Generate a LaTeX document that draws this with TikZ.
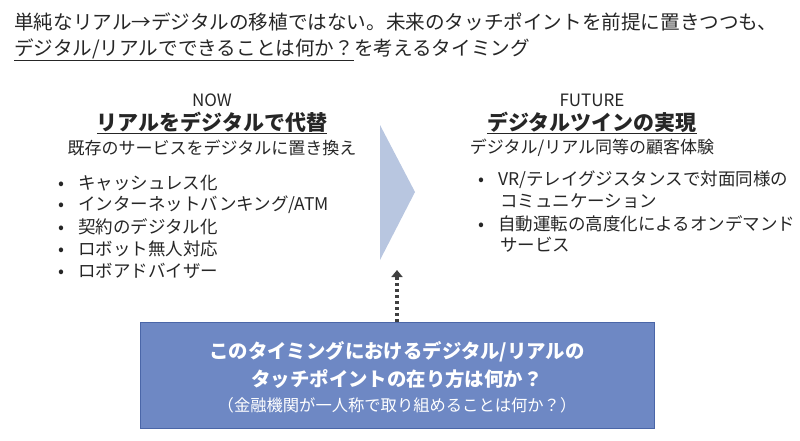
\documentclass[tikz,border=0pt]{standalone}
\usepackage{fontspec}
\usetikzlibrary{arrows.meta}
\setmainfont{Noto Sans CJK JP}
\definecolor{boxblue}{HTML}{6E88C4}
\definecolor{boxedge}{HTML}{4A66A8}
\definecolor{chev}{HTML}{B8C6E0}
\definecolor{txt}{HTML}{262626}
\begin{document}
\begin{tikzpicture}[x=1pt,y=-1pt,
  every node/.style={text=txt,inner sep=0pt},
  title/.style={font=\fontsize{19.6}{22}\selectfont,anchor=west},
  head/.style={font=\fontsize{21}{24}\selectfont\bfseries},
  sub/.style={font=\fontsize{17}{20}\selectfont},
  item/.style={font=\fontsize{17.5}{20}\selectfont,anchor=west,align=left}]
\useasboundingbox (0,0) rectangle (800,440);
\node[title] (t1) at (14,22) {単純なリアル→デジタルの移植ではない。未来のタッチポイントを前提に置きつつも、};
\node[title] (t2) at (14,50) {\underline{デジタル/リアルでできることは何か？}を考えるタイミング};
% NOW
\node[sub] (now) at (212,100) {NOW};
\node[head] (nowh) at (212,123) {\underline{リアルをデジタルで代替}};
\node[sub] (nows) at (212,148) {既存のサービスをデジタルに置き換え};
\node[item] (nb1) at (58,183) {•\hspace{14pt}キャッシュレス化};
\node[item] (nb2) at (58,205) {•\hspace{14pt}インターネットバンキング/ATM};
\node[item] (nb3) at (58,227) {•\hspace{14pt}契約のデジタル化};
\node[item] (nb4) at (58,249) {•\hspace{14pt}ロボット無人対応};
\node[item] (nb5) at (58,271) {•\hspace{14pt}ロボアドバイザー};
% chevron
\fill[chev] (380,125) -- (415,192) -- (380,260) -- cycle;
% FUTURE
\node[sub] (fut) at (592,100) {FUTURE};
\node[head] (futh) at (592,123) {\underline{デジタルツインの実現}};
\node[sub] (futs) at (592,148) {デジタル/リアル同等の顧客体験};
\node[item] (fb1) at (478,180) {•\hspace{14pt}VR/テレイグジスタンスで対面同様の};
\node[item] (fb1b) at (500,201) {コミュニケーション};
\node[item] (fb2) at (478,224) {•\hspace{14pt}自動運転の高度化によるオンデマンド};
\node[item] (fb2b) at (500,245) {サービス};
% box
\node[draw=boxedge,fill=boxblue,line width=1pt,minimum width=514pt,minimum height=106pt] (box) at (397,375) {};
\node[font=\fontsize{19.4}{22}\selectfont\bfseries,text=white] (b1) at (397,352) {このタイミングにおけるデジタル/リアルの};
\node[font=\fontsize{19.4}{22}\selectfont\bfseries,text=white] (b2) at (397,379) {タッチポイントの在り方は何か？};
\node[font=\fontsize{16.3}{19}\selectfont,text=white] (b3) at (397,405) {（金融機関が一人称で取り組めることは何か？）};
\coordinate (tip) at (397,270);
\draw[line width=3.5pt,dash pattern=on 3pt off 3pt,color=black!75,-{Triangle[width=11pt,length=7pt]}] (box.north) -- (tip);
\end{tikzpicture}
\end{document}
